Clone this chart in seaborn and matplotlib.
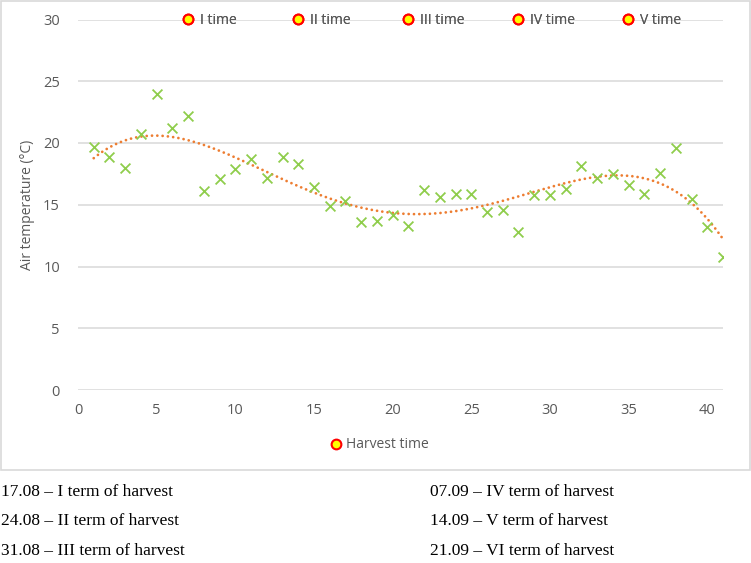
import numpy as np
import pandas as pd
import matplotlib
matplotlib.use("Agg")
import matplotlib.pyplot as plt
from matplotlib.lines import Line2D
from matplotlib.patches import Rectangle
import seaborn as sns

# daily air temperature, day index 1..41
days = list(range(1, 42))
temps = [19.7, 18.9, 18.0, 20.7, 24.0, 21.2, 22.2, 16.1, 17.1, 17.9,
         18.7, 17.2, 18.9, 18.3, 16.4, 14.9, 15.3, 13.6, 13.7, 14.2,
         13.3, 16.2, 15.6, 15.9, 15.9, 14.4, 14.6, 12.8, 15.8, 15.8,
         16.3, 18.1, 17.2, 17.5, 16.6, 15.9, 17.6, 19.6, 15.5, 13.2,
         10.8]
time_labels = ["I time", "II time", "III time", "IV time", "V time"]
harvest_label = "Harvest time"
notes_left = ["17.08 \u2013 I term of harvest", "24.08 \u2013 II term of harvest",
              "31.08 \u2013 III term of harvest"]
notes_right = ["07.09 \u2013 IV term of harvest", "14.09 \u2013 V term of harvest",
               "21.09 \u2013 VI term of harvest"]

df = pd.DataFrame({"day": days, "temp": temps})

# polynomial trend line like the spreadsheet one
coef = np.polyfit(df["day"], df["temp"], 4)
trend = pd.DataFrame({"day": np.linspace(1, 41, 300)})
trend["temp"] = np.polyval(coef, trend["day"])

sns.set_theme(style="white")
plt.rcParams["font.family"] = ["Open Sans", "DejaVu Sans"]

W, H = 751, 563
fig = plt.figure(figsize=(W / 100, H / 100), dpi=100)
ax = fig.add_axes([78 / W, 1 - 390 / H, (723 - 78) / W, (390 - 19.5) / H])

grey = "#595959"
grid = "#d9d9d9"
fs = 10

sns.lineplot(data=trend, x="day", y="temp", ax=ax, color="#ed7d31",
             linewidth=2.0, linestyle=(0, (0.01, 1.9)), dash_capstyle="round",
             zorder=2)
sns.scatterplot(data=df, x="day", y="temp", ax=ax, marker="x", s=50,
                color="#8fcd4c", linewidth=1.3, zorder=3)

ax.set_xlim(0, 41)
ax.set_ylim(0, 30)
ax.set_xticks(range(0, 41, 5))
ax.set_yticks(range(0, 31, 5))
ax.yaxis.grid(True, color=grid, linewidth=1.1)
ax.set_axisbelow(True)
for s in ax.spines.values():
    s.set_visible(False)
ax.tick_params(axis="both", length=0, labelsize=fs + 0.5, labelcolor=grey)
ax.tick_params(axis="y", pad=13)
ax.tick_params(axis="x", pad=9)
ax.set_xlabel("")
ax.set_ylabel("Air temperature (\u00b0C)", fontsize=fs, color=grey, labelpad=6)


def dot():
    return Line2D([], [], marker="o", linestyle="none", markersize=7,
                  markerfacecolor="#ffff00", markeredgecolor="#ff0000",
                  markeredgewidth=1.5)


# equal-width legend slots at the top, like the spreadsheet legend
slot_x = [188, 298, 408, 518, 628]
for lab, mx in zip(time_labels, slot_x):
    lg = fig.legend([dot()], [lab], loc="center left",
                    bbox_to_anchor=((mx - 0.5 * fs * 100 / 72) / W, 1 - 20 / H),
                    frameon=False, fontsize=fs, handletextpad=0.4,
                    handlelength=1.0, borderpad=0, borderaxespad=0,
                    labelcolor=grey)
    fig.add_artist(lg)

fig.legend([dot()], [harvest_label], loc="center left",
           bbox_to_anchor=((336 - 0.5 * fs * 100 / 72) / W, 1 - 445 / H),
           frameon=False, fontsize=fs, handletextpad=0.2, handlelength=1.0,
           borderpad=0, borderaxespad=0, labelcolor=grey)

fig.patches.append(Rectangle((0.5 / W, 1 - 470 / H), (W - 1.5) / W, 469 / H,
                             transform=fig.transFigure, fill=False,
                             edgecolor=grid, linewidth=1.2))

ys = [492, 521, 551]
for txt, y in zip(notes_left, ys):
    fig.text(1 / W, 1 - y / H, txt, family="Liberation Serif", fontsize=12.5,
             va="center", ha="left", color="black")
for txt, y in zip(notes_right, ys):
    fig.text(430 / W, 1 - y / H, txt, family="Liberation Serif", fontsize=12.5,
             va="center", ha="left", color="black")

fig.savefig("out.png", dpi=100)
